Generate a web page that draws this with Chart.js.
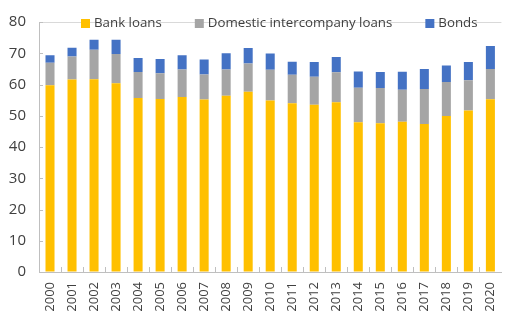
<!DOCTYPE html>
<html>
<head>
<meta charset="utf-8">
<script src="https://cdn.jsdelivr.net/npm/chart.js@4/dist/chart.umd.min.js"></script>
<style>
  html, body { margin: 0; padding: 0; background: #fff; overflow: hidden; }
  #wrap { width: 516px; height: 311px; }
</style>
</head>
<body>
<div id="wrap"><canvas id="chart" width="516" height="311"></canvas></div>
<script>
// years on the x axis
const years = ['2000', '2001', '2002', '2003', '2004', '2005', '2006', '2007', '2008', '2009', '2010',
    '2011', '2012', '2013', '2014', '2015', '2016', '2017', '2018', '2019', '2020'];

// stacked components
const bankLoans = [59.8, 61.6, 61.7, 60.4, 55.7, 55.4, 56.0, 55.2, 56.4, 57.7, 54.9,
    54.0, 53.5, 54.3, 47.9, 47.6, 48.1, 47.4, 49.9, 51.7, 55.3];
const intercompanyLoans = [7.2, 7.4, 9.4, 9.4, 8.3, 8.2, 8.8, 8.0, 8.4, 9.0, 9.8,
    9.1, 9.0, 9.6, 11.1, 11.3, 10.2, 11.2, 10.9, 9.7, 9.7];
const bonds = [2.4, 2.8, 3.2, 4.5, 4.5, 4.6, 4.6, 4.8, 5.2, 5.0, 5.2,
    4.2, 4.7, 4.9, 5.2, 5.1, 5.8, 6.4, 5.3, 5.8, 7.3];

const yTicks = [0, 10, 20, 30, 40, 50, 60, 70, 80];

const textColor = '#404040';
const axisColor = '#bfbfbf';
const fontFamily = '"Open Sans", "Noto Sans", sans-serif';

// small inward tick marks, like the original
const innerTicks = {
    id: 'innerTicks',
    afterDatasetsDraw(chart) {
        const { ctx, scales: { x, y }, chartArea } = chart;
        ctx.save();
        ctx.strokeStyle = axisColor;
        ctx.lineWidth = 1;
        ctx.beginPath();
        yTicks.forEach(v => {
            const py = Math.round(y.getPixelForValue(v)) + 0.5;
            ctx.moveTo(chartArea.left, py);
            ctx.lineTo(chartArea.left + 4, py);
        });
        for (let i = 1; i < years.length; i++) {
            const px = Math.round((x.getPixelForValue(i - 1) + x.getPixelForValue(i)) / 2) + 0.5;
            ctx.moveTo(px, chartArea.bottom);
            ctx.lineTo(px, chartArea.bottom - 5);
        }
        ctx.stroke();
        ctx.restore();
    }
};

// legend drawn inside the plot area
const insideLegend = {
    id: 'insideLegend',
    afterDraw(chart) {
        const ctx = chart.ctx;
        ctx.save();
        ctx.font = '13.3px ' + fontFamily;
        ctx.textBaseline = 'middle';
        let px = 81;
        const cy = 23.5;
        chart.data.datasets.forEach(ds => {
            ctx.fillStyle = ds.backgroundColor;
            ctx.fillRect(px, cy - 4.5, 9, 9);
            ctx.fillStyle = textColor;
            ctx.fillText(ds.label, px + 13, cy);
            px += 13 + ctx.measureText(ds.label).width + 33;
        });
        ctx.restore();
    }
};

new Chart(document.getElementById('chart'), {
    type: 'bar',
    data: {
        labels: years,
        datasets: [
            { label: 'Bank loans', data: bankLoans, backgroundColor: '#FFC000' },
            { label: 'Domestic intercompany loans', data: intercompanyLoans, backgroundColor: '#A5A5A5' },
            { label: 'Bonds', data: bonds, backgroundColor: '#4472C4' }
        ]
    },
    options: {
        responsive: false,
        animation: false,
        layout: { padding: { top: 14, left: 0, right: 0, bottom: 0 } },
        datasets: { bar: { categoryPercentage: 1, barPercentage: 0.41, borderWidth: 0 } },
        plugins: { legend: { display: false }, tooltip: { enabled: false } },
        scales: {
            x: {
                stacked: true,
                grid: { display: false, drawTicks: false },
                border: { color: axisColor, width: 1 },
                ticks: {
                    minRotation: 90, maxRotation: 90, padding: 10,
                    color: textColor, font: { family: fontFamily, size: 13 }
                },
                afterFit(scale) { scale.height = 39; }
            },
            y: {
                stacked: true,
                min: 0, max: 80,
                afterBuildTicks(scale) { scale.ticks = yTicks.map(v => ({ value: v })); },
                grid: {
                    drawTicks: false,
                    color: ctx => (ctx.tick && ctx.tick.value === 80) ? '#d9d9d9' : 'rgba(0,0,0,0)'
                },
                border: { color: axisColor, width: 1 },
                ticks: {
                    padding: 13,
                    color: textColor, font: { family: fontFamily, size: 15 }
                },
                afterFit(scale) { scale.width = 39; }
            }
        }
    },
    plugins: [innerTicks, insideLegend]
});
</script>
</body>
</html>
